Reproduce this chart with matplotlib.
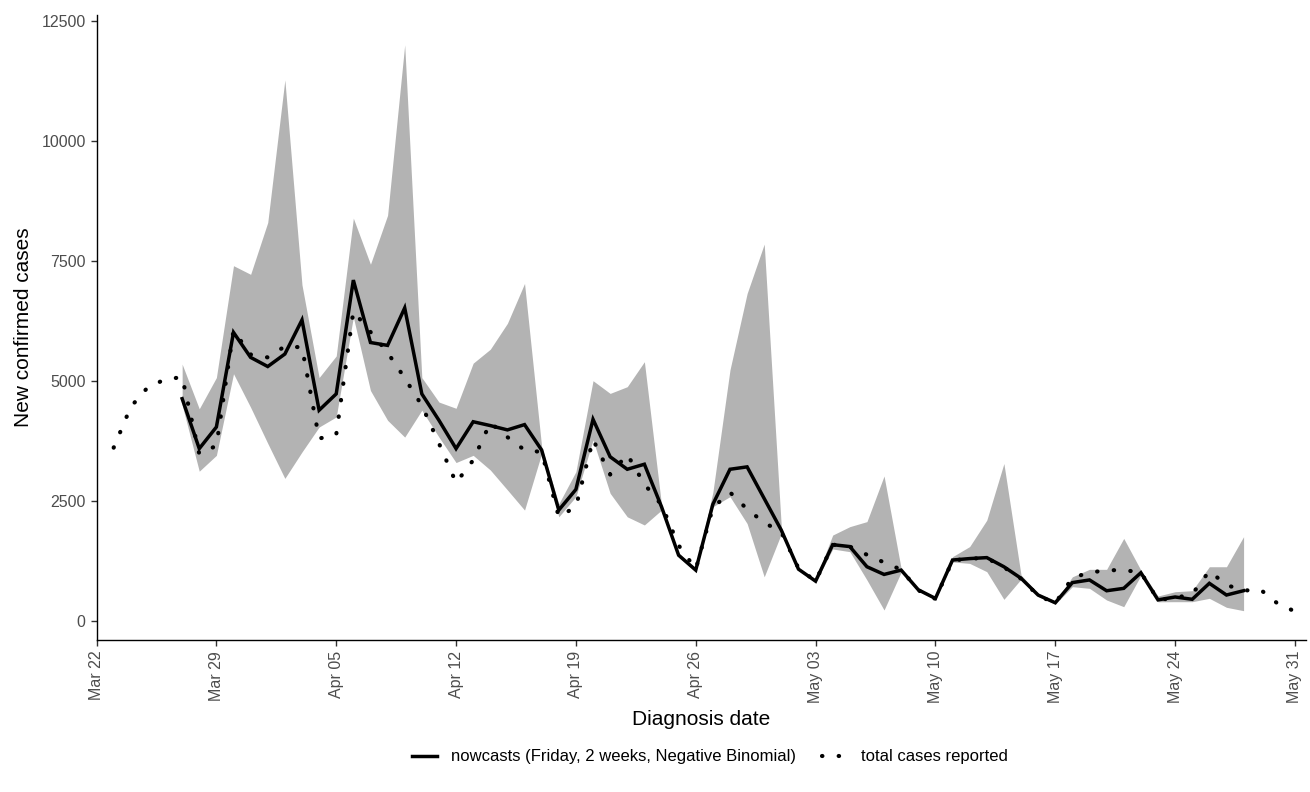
import numpy as np
import matplotlib
matplotlib.use("Agg")
import matplotlib.pyplot as plt
import matplotlib.dates as mdates

plt.rcParams["font.family"] = ["Liberation Sans", "DejaVu Sans"]

# nowcast series, Mar 27 .. May 28 (2020)
nowcast_start = "2020-03-27"
nowcast = [
    4630, 3590, 4040, 6010, 5490,                      # Mar 27-31
    5300, 5560, 6270, 4390, 4730, 7100, 5800, 5740,    # Apr 1-8
    6520, 4730, 4180, 3590, 4150, 4070, 3980, 4090,    # Apr 9-16
    3560, 2310, 2740, 4200, 3420, 3160, 3265, 2380,    # Apr 17-24
    1370, 1060, 2430, 3160, 3210, 2550,                # Apr 25-30
    1890, 1080, 830, 1590, 1550, 1130, 970, 1060,      # May 1-8
    650, 470, 1270, 1300, 1320, 1130, 890, 540,        # May 9-16
    380, 800, 855, 630, 680, 1005, 440, 500,           # May 17-24
    452, 785, 541, 631,                                # May 25-28
]
upper = [
    5350, 4420, 5070, 7400, 7220,
    8300, 11270, 7000, 5070, 5520, 8390, 7430, 8450,
    12000, 5070, 4560, 4430, 5370, 5660, 6200, 7030,
    3630, 2440, 3110, 5005, 4740, 4880, 5400, 2420,
    1420, 1100, 2680, 5230, 6820, 7850,
    1950, 1110, 870, 1790, 1965, 2070, 3020, 1090,
    680, 500, 1340, 1550, 2100, 3280, 960, 570,
    410, 920, 1076, 1076, 1720, 1060, 520, 610,
    631, 1130, 1130, 1756,
]
lower = [
    4500, 3120, 3450, 5150, 4450,
    3700, 2970, 3520, 4040, 4250, 6330, 4800, 4180,
    3830, 4390, 3830, 3300, 3450, 3145, 2730, 2310,
    3490, 2170, 2590, 3770, 2660, 2170, 2000, 2310,
    1330, 1020, 2380, 2590, 2030, 920,
    1820, 1050, 800, 1500, 1444, 854, 229, 1020,
    620, 440, 1230, 1200, 1027, 451, 870, 510,
    350, 715, 680, 437, 298, 950, 400, 402,
    402, 472, 285, 215,
]

# total cases reported, Mar 23 .. May 31
reported_start = "2020-03-23"
reported = [
    3610, 4460, 4870, 5030, 5080, 3480, 3650, 6050, 5550,   # Mar 23-31
    5490, 5720, 5700, 3800, 3880, 6450, 6020, 5590,         # Apr 1-8
    5060, 4490, 3700, 2880, 3350, 4130, 3830, 3560,         # Apr 9-16
    3520, 2170, 2380, 3780, 3050, 3470, 2850, 2420,         # Apr 17-24
    1575, 1080, 2360, 2680, 2330, 2050,                     # Apr 25-30
    1850, 1100, 830, 1590, 1550, 1380, 1220, 1070,          # May 1-8
    640, 460, 1260, 1300, 1310, 1120, 880, 530,             # May 9-16
    370, 900, 1010, 1055, 1062, 1010, 440, 480,             # May 17-24
    560, 1040, 750, 635, 650, 360, 200,                     # May 25-31
]


def to_num(start, n):
    d = np.datetime64(start) + np.arange(n)
    return mdates.date2num(d.astype("datetime64[s]").astype(object))


nc_x = to_num(nowcast_start, len(nowcast))
rep_x = to_num(reported_start, len(reported))

fig = plt.figure(figsize=(13.1, 7.92), dpi=100)
ax = fig.add_axes([0.0737, 0.1919, 0.9233, 0.7891])

ax.fill_between(nc_x, lower, upper, color="#B3B3B3", linewidth=0, zorder=1)
ax.plot(nc_x, nowcast, color="black", lw=2.5, solid_joinstyle="miter",
        label="nowcasts (Friday, 2 weeks, Negative Binomial)", zorder=3)
ax.plot(rep_x, reported, color="black", lw=3.0, linestyle=(0, (0.1, 3.9)),
        dash_capstyle="round", label="total cases reported", zorder=2)

x0 = to_num("2020-03-22", 1)[0]
ax.set_xlim(x0, x0 + 70.65)
ax.set_ylim(-396, 12620)

ax.set_xticks(x0 + np.arange(0, 71, 7))
ax.xaxis.set_major_formatter(mdates.DateFormatter("%b %d"))
ax.set_yticks([0, 2500, 5000, 7500, 10000, 12500])

for s in ["top", "right"]:
    ax.spines[s].set_visible(False)
for s in ["left", "bottom"]:
    ax.spines[s].set_linewidth(1.0)
    ax.spines[s].set_color("black")

ax.tick_params(axis="both", length=4.3, width=1.0, color="#333333",
               labelcolor="#4D4D4D", labelsize=11.5, pad=3.5)
plt.setp(ax.get_xticklabels(), rotation=90)

ax.set_xlabel("Diagnosis date", fontsize=15, labelpad=5)
ax.set_ylabel("New confirmed cases", fontsize=15, labelpad=6)

fig.legend(loc="center", bbox_to_anchor=(710 / 1310, 1 - 757 / 792), ncol=2,
           frameon=False, fontsize=12, handlelength=1.5, columnspacing=1.6,
           handletextpad=0.8)

plt.savefig("out.png", dpi=100)
